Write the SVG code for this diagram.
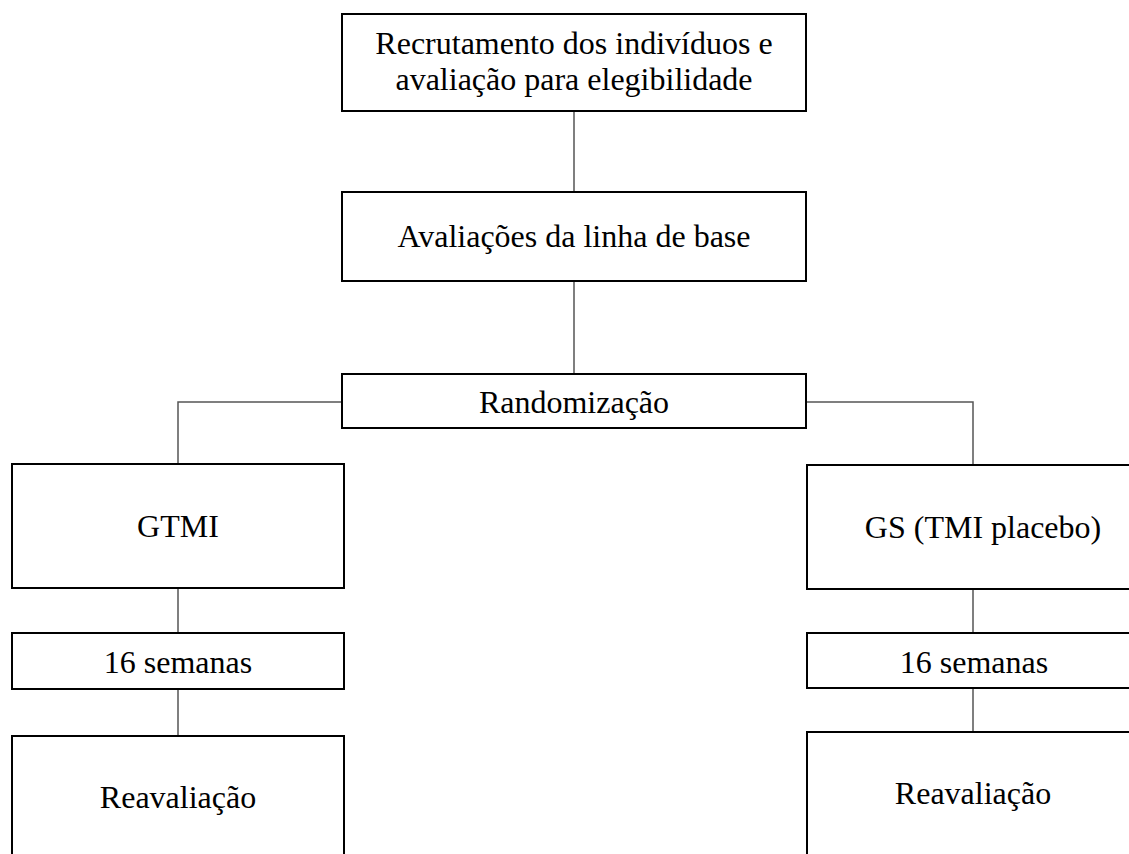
<svg xmlns="http://www.w3.org/2000/svg" width="1129" height="854" viewBox="0 0 1129 854">
<style>
.box{fill:#fff;stroke:#000;stroke-width:2}
.t{font-family:"Liberation Serif","Times New Roman",serif;font-size:32px;fill:#000;text-anchor:middle}
.c{stroke:#555;stroke-width:1.5;fill:none}
</style>
<rect width="1129" height="854" fill="#fff"/>
<g id="connectors">
<line class="c" x1="574" y1="111" x2="574" y2="192"/>
<line class="c" x1="574" y1="281" x2="574" y2="374"/>
<polyline class="c" points="342,402 178,402 178,464"/>
<polyline class="c" points="806,402 973,402 973,465"/>
<line class="c" x1="178" y1="588" x2="178" y2="633"/>
<line class="c" x1="178" y1="689" x2="178" y2="736"/>
<line class="c" x1="973" y1="589" x2="973" y2="633"/>
<line class="c" x1="973" y1="688" x2="973" y2="732"/>
</g>
<g id="recrutamento">
<rect class="box" x="342" y="14" width="464" height="97"/>
<text class="t" x="574" y="54">Recrutamento dos indivíduos e</text>
<text class="t" x="574" y="90">avaliação para elegibilidade</text>
</g>
<g id="baseline">
<rect class="box" x="342" y="192" width="464" height="89"/>
<text class="t" x="574" y="247">Avaliações da linha de base</text>
</g>
<g id="randomizacao">
<rect class="box" x="342" y="374" width="464" height="54"/>
<text class="t" x="574" y="413">Randomização</text>
</g>
<g id="gtmi">
<rect class="box" x="12" y="464" width="332" height="124"/>
<text class="t" x="178" y="537">GTMI</text>
</g>
<g id="gs">
<rect class="box" x="807" y="465" width="360" height="124"/>
<text class="t" x="983" y="538">GS (TMI placebo)</text>
</g>
<g id="semanas-left">
<rect class="box" x="12" y="633" width="332" height="56"/>
<text class="t" x="178" y="673">16 semanas</text>
</g>
<g id="semanas-right">
<rect class="box" x="807" y="633" width="360" height="55"/>
<text class="t" x="974" y="673">16 semanas</text>
</g>
<g id="reavaliacao-left">
<rect class="box" x="12" y="736" width="332" height="140"/>
<text class="t" x="178" y="808">Reavaliação</text>
</g>
<g id="reavaliacao-right">
<rect class="box" x="807" y="732" width="360" height="140"/>
<text class="t" x="973" y="804">Reavaliação</text>
</g>
</svg>
